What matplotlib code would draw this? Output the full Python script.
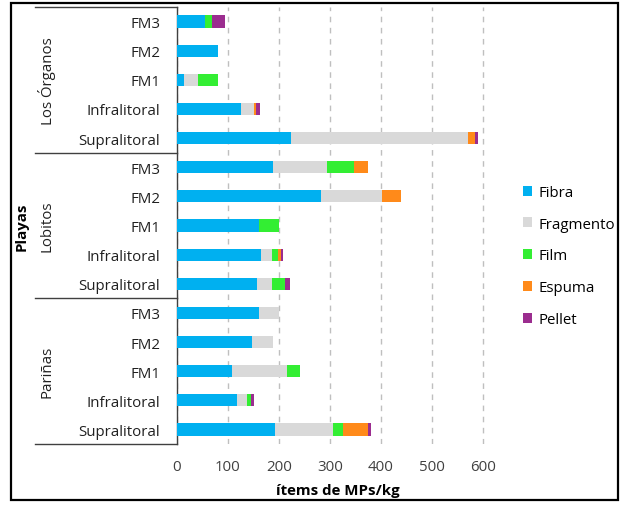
import matplotlib
matplotlib.use("Agg")
import matplotlib.pyplot as plt
from matplotlib.patches import Rectangle, Patch
import matplotlib.transforms as mtransforms
import numpy as np

plt.rcParams['font.family'] = ['Open Sans', 'DejaVu Sans']

groups = ["Los Órganos", "Lobitos", "Pariñas"]
sites = ["FM3", "FM2", "FM1", "Infralitoral", "Supralitoral"]
series = ["Fibra", "Fragmento", "Film", "Espuma", "Pellet"]
colors = ["#00B0F0", "#D9D9D9", "#33EE33", "#FF8A1A", "#9B2D8F"]

# order: Los Órganos (FM3..Supra), Lobitos, Pariñas  (top to bottom)
fibra     = [54, 81, 13, 126, 224,  188, 282, 161, 164, 157,  161, 148, 107, 117, 193]
fragmento = [0, 0, 29, 26, 348,     106, 120, 0, 22, 29,      40, 40, 108, 21, 113]
film      = [14, 0, 39, 0, 0,       53, 0, 40, 12, 26,        0, 0, 26, 7, 20]
espuma    = [0, 0, 0, 4, 12,        27, 38, 0, 6, 0,          0, 0, 0, 0, 48]
pellet    = [26, 0, 0, 6, 6,        0, 0, 0, 5, 10,           0, 0, 0, 7, 7]
xticks = [0, 100, 200, 300, 400, 500, 600]

FS = 10.8
W, H = 624, 506
fig = plt.figure(figsize=(W/100, H/100), dpi=100)
ax_left, ax_right, ax_top, ax_bot = 177, 498, 8, 445
ax = fig.add_axes([ax_left/W, 1-ax_bot/H, (ax_right-ax_left)/W, (ax_bot-ax_top)/H])

labels = sites * len(groups)
y = np.arange(len(labels))
data = [fibra, fragmento, film, espuma, pellet]
left = np.zeros(len(labels))
for vals, name, c in zip(data, series, colors):
    ax.barh(y, vals, left=left, height=0.42, color=c, label=name, zorder=3)
    left += np.array(vals)

ax.set_xlim(0, 630)
ax.set_ylim(14.5, -0.5)
ax.set_xticks(xticks)
ax.set_xticklabels([str(v) for v in xticks], fontsize=FS, color="#404040")
ax.set_yticks(y)
ax.set_yticklabels(labels, fontsize=FS, color="#202020")
ax.tick_params(axis='y', length=0, pad=12)
ax.tick_params(axis='x', length=0, pad=11)
ax.xaxis.grid(True, linestyle=(0, (4, 4)), color="#BFBFBF", linewidth=1, zorder=0)
for s in ["top", "right", "bottom"]:
    ax.spines[s].set_visible(False)
ax.spines["left"].set_color("#404040")
ax.spines["left"].set_linewidth(1)
ax.set_xlabel("ítems de MPs/kg", fontsize=FS, fontweight="bold", labelpad=6)

trans = mtransforms.blended_transform_factory(ax.transAxes, ax.transData)
x0 = (35 - ax_left) / (ax_right - ax_left)
for yy in [-0.5, 4.5, 9.5, 14.5]:
    ax.plot([x0, 0], [yy, yy], transform=trans, color="#404040", lw=1, clip_on=False)
for i, g in enumerate(groups):
    ax.text((47 - ax_left) / (ax_right - ax_left), 5*i + 2, g, transform=trans,
            rotation=90, ha="center", va="center", fontsize=FS, color="#202020")
ax.text((22 - ax_left) / (ax_right - ax_left), 7, "Playas", transform=trans,
        rotation=90, ha="center", va="center", fontsize=FS, fontweight="bold")

handles = [Patch(facecolor=c, label=n) for n, c in zip(series, colors)]
fig.legend(handles=handles, loc="center left", bbox_to_anchor=(509/W, 1-257/H),
           frameon=False, fontsize=FS, handlelength=0.65, handleheight=0.65,
           labelspacing=1.12, handletextpad=0.4)

fig.patches.append(Rectangle((11/W, 1-501/H), (618-11)/W, (501-4)/H,
                             transform=fig.transFigure, fill=False,
                             edgecolor="black", linewidth=1.6))

fig.savefig("out.png", dpi=100)
